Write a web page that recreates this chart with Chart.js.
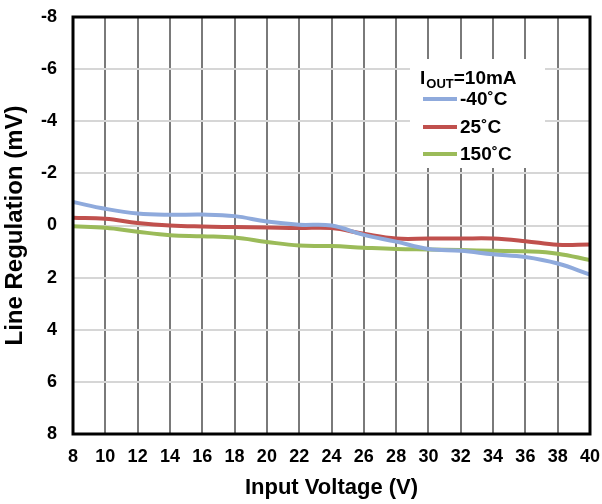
<!DOCTYPE html>
<html>
<head>
<meta charset="utf-8">
<script src="https://cdn.jsdelivr.net/npm/chart.js@4/dist/chart.umd.min.js"></script>
<style>
  html, body { margin: 0; padding: 0; background: #fff; }
  #wrap { width: 602px; height: 504px; position: relative; }
</style>
</head>
<body>
<div id="wrap"><canvas id="c"></canvas></div>
<script>
// ---- data ----
const inputVoltage = [8, 10, 12, 14, 16, 18, 20, 22, 24, 26, 28, 30, 32, 34, 36, 38, 40];
const regMinus40 = [-0.90, -0.64, -0.46, -0.41, -0.42, -0.36, -0.15, -0.03, 0.00, 0.36, 0.62, 0.90, 0.97, 1.10, 1.21, 1.46, 1.88];
const reg25 = [-0.30, -0.26, -0.10, 0.00, 0.04, 0.06, 0.08, 0.10, 0.10, 0.32, 0.50, 0.50, 0.50, 0.50, 0.60, 0.74, 0.73];
const reg150 = [0.03, 0.09, 0.24, 0.37, 0.41, 0.46, 0.63, 0.77, 0.79, 0.85, 0.90, 0.92, 0.94, 0.97, 0.99, 1.08, 1.33];
const seriesNames = ['-40˚C', '25˚C', '150˚C'];
const seriesColors = ['#8FAADC', '#C0504D', '#9BBB59'];
const legendTitleMain = 'I';
const legendTitleSub = 'OUT';
const legendTitleRest = '=10mA';
const xTitle = 'Input Voltage (V)';
const yTitle = 'Line Regulation (mV)';

const FONT = "'Liberation Sans', Arial, sans-serif";

function pts(ys) { return inputVoltage.map((x, i) => ({ x: x, y: ys[i] })); }

const frameAndLegend = {
  id: 'frameAndLegend',
  afterDatasetsDraw(chart) {
    const { ctx, chartArea: a } = chart;
    ctx.save();
    // frame
    ctx.strokeStyle = '#000';
    ctx.lineWidth = 3;
    ctx.strokeRect(a.left, a.top, a.right - a.left, a.bottom - a.top);
    // legend box
    ctx.fillStyle = '#fff';
    ctx.fillRect(410, 59, 135, 109);
    ctx.fillStyle = '#000';
    ctx.textBaseline = 'alphabetic';
    ctx.textAlign = 'left';
    ctx.font = 'bold 19px ' + FONT;
    let x = 420;
    ctx.fillText(legendTitleMain, x, 84);
    x += ctx.measureText(legendTitleMain).width;
    ctx.font = 'bold 13px ' + FONT;
    ctx.fillText(legendTitleSub, x + 1, 88);
    x += ctx.measureText(legendTitleSub).width + 1;
    ctx.font = 'bold 19px ' + FONT;
    ctx.fillText(legendTitleRest, x, 84);
    const rowsY = [99, 127, 154];
    for (let i = 0; i < seriesNames.length; i++) {
      ctx.strokeStyle = seriesColors[i];
      ctx.lineWidth = 4;
      ctx.beginPath();
      ctx.moveTo(423, rowsY[i]);
      ctx.lineTo(457, rowsY[i]);
      ctx.stroke();
      ctx.fillStyle = '#000';
      ctx.font = 'bold 19px ' + FONT;
      ctx.textBaseline = 'middle';
      ctx.fillText(seriesNames[i], 460, rowsY[i] + 1);
    }
    ctx.restore();
  }
};

new Chart(document.getElementById('c'), {
  type: 'line',
  data: {
    datasets: [
      { label: seriesNames[0], data: pts(regMinus40), borderColor: seriesColors[0] },
      { label: seriesNames[1], data: pts(reg25), borderColor: seriesColors[1] },
      { label: seriesNames[2], data: pts(reg150), borderColor: seriesColors[2] }
    ].map(d => Object.assign(d, { borderWidth: 4, pointRadius: 0, tension: 0.4, fill: false }))
  },
  options: {
    responsive: true,
    maintainAspectRatio: false,
    animation: false,
    layout: { padding: { top: 17, right: 12, bottom: 0, left: 0 } },
    plugins: { legend: { display: false }, tooltip: { enabled: false } },
    scales: {
      x: {
        type: 'linear', min: 8, max: 40,
        afterFit(s) { s.height = 70; s.paddingLeft = 0; s.paddingRight = 0; },
        ticks: { stepSize: 2, color: '#000', padding: 12, font: { family: FONT, size: 18, weight: 'bold' }, maxRotation: 0, autoSkip: false },
        grid: { color: '#7a7a7a', lineWidth: 2, drawTicks: false },
        border: { display: false },
        title: { display: true, text: xTitle, color: '#000', font: { family: FONT, size: 22, weight: 'bold' }, padding: { top: 0, bottom: 3 } }
      },
      y: {
        type: 'linear', min: -8, max: 8, reverse: true,
        afterFit(s) { s.width = 73; s.paddingTop = 0; s.paddingBottom = 0; },
        ticks: { stepSize: 2, color: '#000', padding: 16, font: { family: FONT, size: 18, weight: 'bold' } },
        grid: { color: '#d6d6d6', lineWidth: 2, drawTicks: false },
        border: { display: false },
        title: { display: true, text: yTitle, color: '#000', font: { family: FONT, size: 24, weight: 'bold' }, padding: { top: 1, bottom: 0 } }
      }
    }
  },
  plugins: [frameAndLegend]
});
</script>
</body>
</html>
